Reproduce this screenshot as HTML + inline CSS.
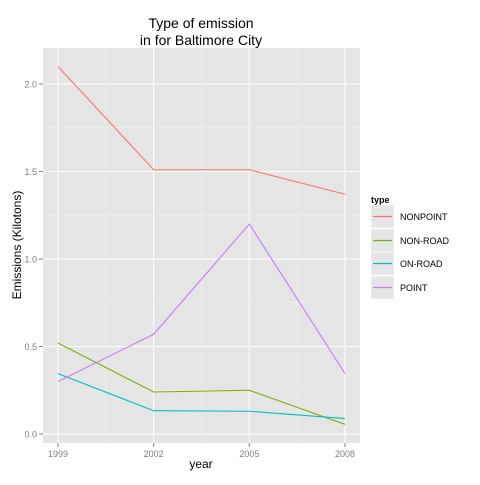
<!DOCTYPE html><html><head><style>body{margin:0;background:#fff}svg{font-family:"Liberation Sans",sans-serif}</style></head><body>
<svg id="c" width="480" height="480"></svg>
<script>
const years=[1999,2002,2005,2008];
const types=["NONPOINT","NON-ROAD","ON-ROAD","POINT"];
const nonpoint=[2.10,1.51,1.51,1.37];
const nonroad=[0.52,0.24,0.25,0.055];
const onroad=[0.345,0.133,0.13,0.088];
const point=[0.30,0.57,1.20,0.345];
const yTicks=[0,0.5,1,1.5,2];
const yTickLabels=["0.0","0.5","1.0","1.5","2.0"];
const series=[nonpoint,nonroad,onroad,point];
const colors=["#F8766D","#7CAE00","#00BFC4","#C77CFF"];
const ns="http://www.w3.org/2000/svg",svg=document.getElementById('c');
const L=43,R=360,T=48,B=443;
const x=v=>58+(v-1999)/9*(345-58);
const y=v=>434-v*175;
function el(t,a,p){const e=document.createElementNS(ns,t);for(const k in a)e.setAttribute(k,a[k]);(p||svg).appendChild(e);return e;}
const bg=el('rect',{x:L,y:T,width:R-L,height:B-T,fill:'#E5E5E5'});

for(let i=0;i<yTicks.length-1;i++){el('line',{x1:L,x2:R,y1:y((yTicks[i]+yTicks[i+1])/2),y2:y((yTicks[i]+yTicks[i+1])/2),stroke:'#F2F2F2','stroke-width':0.5});}
for(let i=0;i<years.length-1;i++){const m=x((years[i]+years[i+1])/2);el('line',{x1:m,x2:m,y1:T,y2:B,stroke:'#F2F2F2','stroke-width':0.5});}
yTicks.forEach((t,i)=>{el('line',{x1:L,x2:R,y1:y(t),y2:y(t),stroke:'#fff','stroke-width':1});
el('line',{x1:L-4,x2:L,y1:y(t),y2:y(t),stroke:'#7f7f7f'});
const tx=el('text',{x:L-6,y:y(t)+3.5,'text-anchor':'end','font-size':9,fill:'#7f7f7f'});tx.textContent=yTickLabels[i];
});
years.forEach(yr=>{el('line',{x1:x(yr),x2:x(yr),y1:T,y2:B,stroke:'#fff','stroke-width':1});
el('line',{x1:x(yr),x2:x(yr),y1:B,y2:B+4,stroke:'#7f7f7f'});
const tx=el('text',{x:x(yr),y:B+14,'text-anchor':'middle','font-size':9,fill:'#7f7f7f'});tx.textContent=yr;
});
series.forEach((s,i)=>{const p=el('polyline',{points:s.map((v,j)=>x(years[j])+','+y(v)).join(' '),fill:'none',stroke:colors[i],'stroke-width':1.1});
});
let t=el('text',{x:201,y:28,'text-anchor':'middle','font-size':14});t.textContent='Type of emission';

t=el('text',{x:201,y:45,'text-anchor':'middle','font-size':14});t.textContent='in for Baltimore City';

t=el('text',{x:201,y:468,'text-anchor':'middle','font-size':12});t.textContent='year';

t=el('text',{x:21,y:245,'text-anchor':'middle','font-size':12,transform:'rotate(-90 21 245)'});t.textContent='Emissions (Kilotons)';

t=el('text',{x:371,y:203,'font-size':9,'font-weight':'bold'});t.textContent='type';

types.forEach((n,i)=>{const cy=Math.round(216+i*23.5)+0.5;
const g=el('g',{});
el('rect',{x:371,y:cy-11.5,width:23,height:23,fill:'#E5E5E5',stroke:'#fff','stroke-width':0.5},g);
el('line',{x1:373,x2:392,y1:cy,y2:cy,stroke:colors[i],'stroke-width':1.2},g);
const tt=el('text',{x:400,y:cy+3.5,'font-size':9},g);tt.textContent=n;});
</script></body></html>
